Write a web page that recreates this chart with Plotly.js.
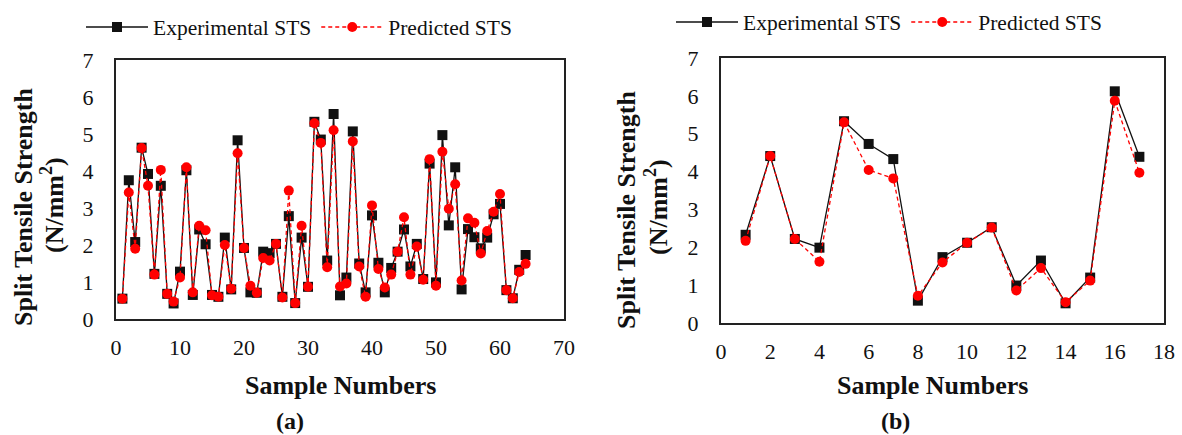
<!DOCTYPE html>
<html>
<head>
<meta charset="utf-8">
<script src="https://cdn.plot.ly/plotly-3.0.1.min.js"></script>
<style>
  html, body { margin: 0; padding: 0; background: #fff; }
  #chart { width: 1182px; height: 435px; }
</style>
</head>
<body>
<div id="chart"></div>
<script>
// (a) full sample set: split tensile strength, N/mm²
const samplesA = Array.from({length: 64}, (_, i) => i + 1);
const experimentalA = [
  0.55, 3.75, 2.08, 4.63, 3.92, 1.22, 3.60, 0.68, 0.42, 1.28,
  4.02, 0.65, 2.42, 2.02, 0.65, 0.60, 2.20, 0.80, 4.83, 1.92,
  0.72, 0.71, 1.82, 1.78, 2.03, 0.60, 2.78, 0.43, 2.20, 0.87,
  5.33, 4.85, 1.58, 5.54, 0.64, 1.12, 5.07, 1.50, 0.72, 2.80,
  1.52, 0.72, 1.38, 1.82, 2.42, 1.42, 2.03, 1.08, 4.20, 0.99,
  4.97, 2.53, 4.10, 0.80, 2.43, 2.21, 1.91, 2.20, 2.83, 3.11,
  0.78, 0.56, 1.33, 1.73
];
const predictedA = [
  0.55, 3.42, 1.90, 4.62, 3.60, 1.20, 4.03, 0.68, 0.47, 1.12,
  4.10, 0.72, 2.52, 2.40, 0.64, 0.60, 2.00, 0.82, 4.48, 1.92,
  0.90, 0.71, 1.65, 1.58, 2.03, 0.58, 3.47, 0.43, 2.52, 0.87,
  5.29, 4.76, 1.40, 5.10, 0.88, 0.96, 4.80, 1.42, 0.60, 3.07,
  1.35, 0.85, 1.20, 1.82, 2.75, 1.20, 1.96, 1.06, 4.32, 0.90,
  4.52, 2.98, 3.64, 1.04, 2.72, 2.60, 1.77, 2.38, 2.90, 3.38,
  0.78, 0.56, 1.27, 1.49
];

// (b) second sample set
const samplesB = Array.from({length: 17}, (_, i) => i + 1);
const experimentalB = [2.33, 4.41, 2.22, 1.99, 5.33, 4.73, 4.33, 0.59, 1.74, 2.12, 2.53, 0.99, 1.65, 0.52, 1.20, 6.12, 4.39];
const predictedB    = [2.17, 4.41, 2.22, 1.62, 5.30, 4.04, 3.82, 0.72, 1.60, 2.12, 2.52, 0.86, 1.45, 0.55, 1.12, 5.87, 3.97];

const seriesNames = ['Experimental STS', 'Predicted STS'];
const xTickA = [0, 10, 20, 30, 40, 50, 60, 70];
const xTickB = [0, 2, 4, 6, 8, 10, 12, 14, 16, 18];
const yTicks = [0, 1, 2, 3, 4, 5, 6, 7];
const yTitleLines = ['Split Tensile Strength', '(N/mm<sup>2</sup>)'];
const xTitle = 'Sample Numbers';
const panelLabels = ['(a)', '(b)'];

const W = 1182, H = 435;
const px = v => v / W;          // pixel -> paper x
const py = v => 1 - v / H;      // pixel -> paper y

const serif = '"Liberation Serif", "Times New Roman", Times, serif';

function expTrace(x, y, xa, ya, leg) {
  return {
    x: x, y: y, xaxis: xa, yaxis: ya, legend: leg,
    name: seriesNames[0], type: 'scatter', mode: 'lines+markers',
    line: {color: '#111111', width: 1.3},
    marker: {symbol: 'square', size: 10, color: '#111111'}
  };
}
function predTrace(x, y, xa, ya, leg) {
  return {
    x: x, y: y, xaxis: xa, yaxis: ya, legend: leg,
    name: seriesNames[1], type: 'scatter', mode: 'lines+markers',
    line: {color: '#ff0000', width: 1.3, dash: '4px,3px'},
    marker: {symbol: 'circle', size: 10, color: '#ff0000'}
  };
}

const data = [
  expTrace(samplesA, experimentalA, 'x', 'y', 'legend'),
  predTrace(samplesA, predictedA, 'x', 'y', 'legend'),
  expTrace(samplesB, experimentalB, 'x2', 'y2', 'legend2'),
  predTrace(samplesB, predictedB, 'x2', 'y2', 'legend2')
];

function axisBase(extra) {
  return Object.assign({
    showgrid: false, zeroline: false,
    showline: true, mirror: true, linecolor: '#222', linewidth: 2,
    ticks: 'outside', ticklen: 16, tickcolor: 'rgba(0,0,0,0)',
    tickfont: {family: serif, size: 22, color: '#111'},
    fixedrange: true
  }, extra);
}

const legendBase = {
  orientation: 'h', xanchor: 'left', yanchor: 'middle',
  bgcolor: 'rgba(0,0,0,0)', itemwidth: 62,
  font: {family: serif, size: 21.5, color: '#111'},
  itemclick: false, itemdoubleclick: false
};

function boldText(text, x, y, size, angle) {
  return {
    text: text, textangle: angle || 0, xref: 'paper', yref: 'paper',
    x: px(x), y: py(y), xanchor: 'center', yanchor: 'middle', showarrow: false,
    font: {family: serif, size: size, color: '#111', weight: 'bold'}
  };
}

const layout = {
  width: W, height: H,
  margin: {l: 0, r: 0, t: 0, b: 0},
  paper_bgcolor: '#fff', plot_bgcolor: '#fff',
  font: {family: serif},
  showlegend: true,
  xaxis: axisBase({domain: [px(116), px(564)], range: [0, 70], tickvals: xTickA, anchor: 'y', ticklen: 8}),
  yaxis: axisBase({domain: [py(319), py(60)], range: [0, 7], tickvals: yTicks, anchor: 'x'}),
  xaxis2: axisBase({domain: [px(721), px(1164)], range: [0, 18], tickvals: xTickB, anchor: 'y2', ticklen: 8}),
  yaxis2: axisBase({domain: [py(323), py(58)], range: [0, 7], tickvals: yTicks, anchor: 'x2'}),
  legend: Object.assign({}, legendBase, {x: px(81), y: py(27)}),
  legend2: Object.assign({}, legendBase, {x: px(671), y: py(22)}),
  annotations: [
    boldText(yTitleLines[0], 23, 207, 26, -90),
    boldText(yTitleLines[1], 52, 205, 26, -90),
    boldText(yTitleLines[0], 626, 210, 26, -90),
    boldText(yTitleLines[1], 656, 207, 26, -90),
    boldText(xTitle, 340, 385, 26),
    boldText(xTitle, 932, 385, 26),
    boldText(panelLabels[0], 290, 421, 24),
    boldText(panelLabels[1], 895, 421, 24)
  ]
};

Plotly.newPlot('chart', data, layout, {displayModeBar: false, staticPlot: true});
</script>
</body>
</html>
